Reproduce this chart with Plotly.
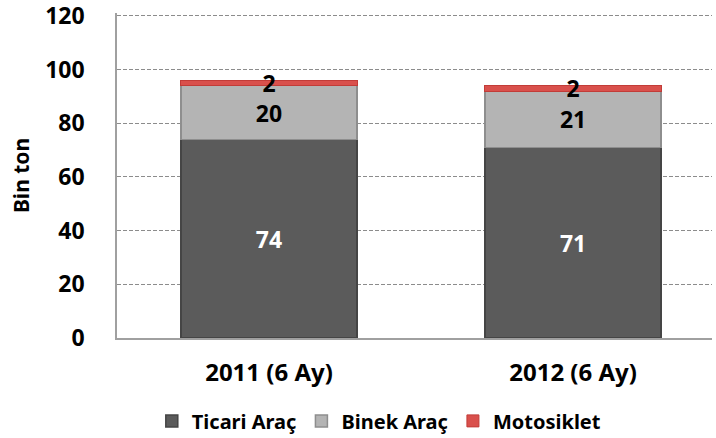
import plotly.graph_objects as go

categories = ["2011 (6 Ay)", "2012 (6 Ay)"]
ticari = [74, 71]
binek = [20, 21]
motosiklet = [2, 2]
y_ticks = [0, 20, 40, 60, 80, 100, 120]

FONT = "Noto Sans"

def b(s):
    return "<b>" + str(s) + "</b>"

fig = go.Figure()
fig.add_trace(go.Bar(
    name=b("Ticari Araç"), x=categories, y=ticari,
    marker=dict(color="#5b5b5b", line=dict(color="#454545", width=1.5)),
    text=[b(v) for v in ticari], textposition="inside", textangle=0,
    insidetextanchor="middle", constraintext="none",
    textfont=dict(family=FONT, size=23, color="white"),
))
fig.add_trace(go.Bar(
    name=b("Binek Araç"), x=categories, y=binek,
    marker=dict(color="#b4b4b4", line=dict(color="#8e8e8e", width=1.5)),
    text=[b(v) for v in binek], textposition="inside", textangle=0,
    insidetextanchor="middle", constraintext="none",
    textfont=dict(family=FONT, size=23, color="black"),
))
fig.add_trace(go.Bar(
    name=b("Motosiklet"), x=categories, y=motosiklet,
    marker=dict(color="#d9504c", line=dict(color="#c23c38", width=1)),
    text=[b(v) for v in motosiklet], textposition="inside", textangle=0,
    insidetextanchor="middle", constraintext="none",
    textfont=dict(family=FONT, size=23, color="black"),
))

fig.update_layout(
    barmode="stack",
    bargap=0.42,
    width=716, height=438,
    margin=dict(l=117, r=4, t=13, b=100, autoexpand=False),
    paper_bgcolor="white", plot_bgcolor="white",
    font=dict(family=FONT, color="black"),
    showlegend=True,
    legend=dict(orientation="h", x=0.44, xanchor="center", y=-0.255, yanchor="middle",
                font=dict(family=FONT, size=20, color="black"),
                traceorder="normal", itemwidth=30),
)
fig.update_xaxes(
    range=[-0.5, 1.457], automargin=False,
    tickvals=categories, ticktext=[b(c) for c in categories],
    showline=True, linecolor="#a0a0a0", linewidth=1.5,
    tickfont=dict(family=FONT, size=24, color="black"),
    ticks="", ticklabelstandoff=12,
    showgrid=False,
)
fig.update_yaxes(
    range=[0, 121.1], automargin=False,
    tickvals=y_ticks, ticktext=[b(v) for v in y_ticks],
    ticklabeloverflow="allow",
    showline=True, linecolor="#a0a0a0", linewidth=1.5,
    gridcolor="#8c8c8c", griddash="4px,2px", gridwidth=1,
    tickfont=dict(family=FONT, size=23, color="black"),
    ticks="", ticklabelstandoff=26,
    title=dict(text=b("Bin ton"), font=dict(family=FONT, size=21, color="black"), standoff=10),
    zeroline=False,
)

fig.write_html("out.html", config={"displayModeBar": False},
               post_script="document.body.style.margin='0px';")
